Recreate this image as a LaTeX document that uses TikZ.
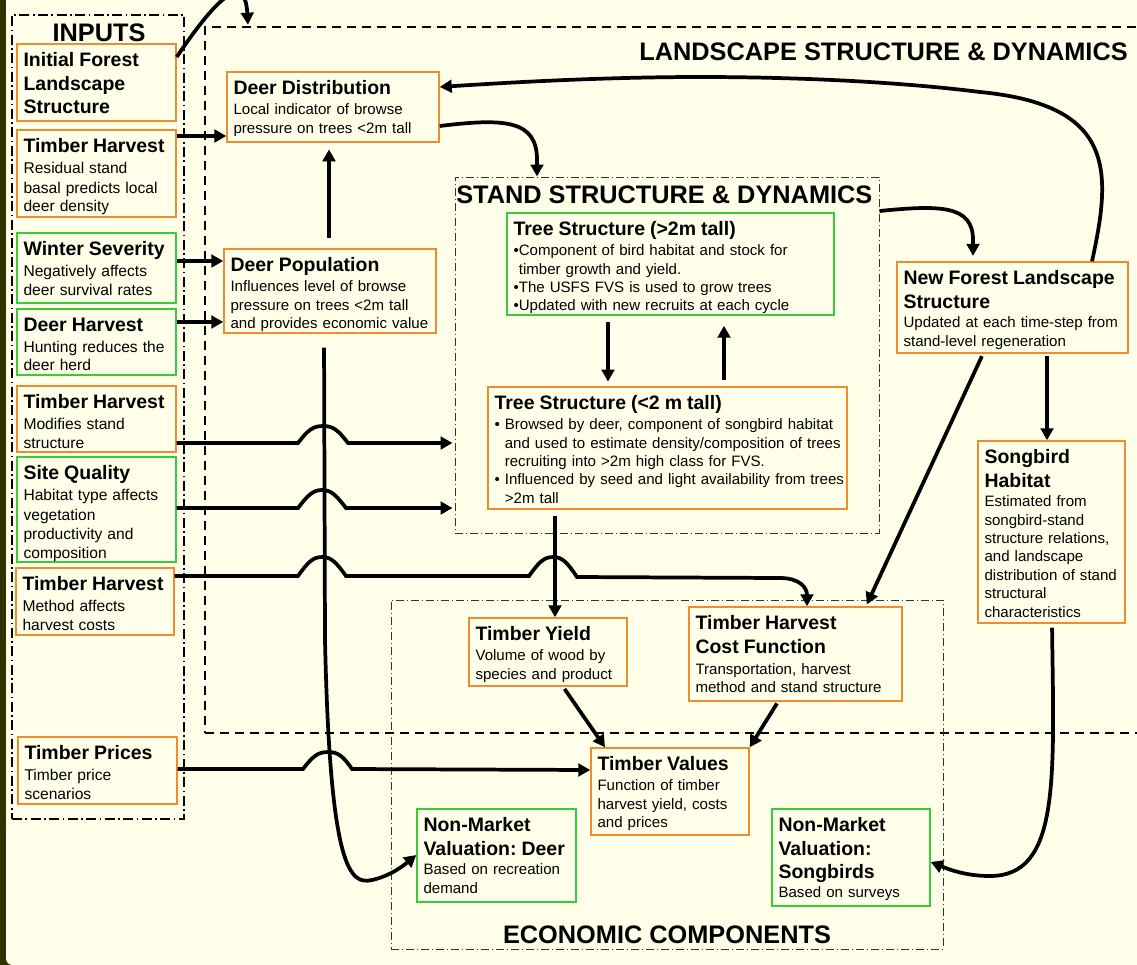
\documentclass[tikz,border=0pt]{standalone}
\usepackage{fontspec}
\setmainfont{Liberation Sans}
\usetikzlibrary{arrows.meta,fit}
\definecolor{bgc}{RGB}{255,255,234}
\definecolor{orc}{RGB}{240,140,45}
\definecolor{grc}{RGB}{55,205,55}
\definecolor{dkc}{RGB}{50,50,0}
\frenchspacing
\newcommand\tfont{\fontsize{14.6}{17.3}\selectfont\bfseries}
\newcommand\bfont{\fontsize{11.3}{13.8}\selectfont\mdseries}
\newcommand\bifont{\fontsize{11.7}{14.6}\selectfont\mdseries}
\newcommand\hfont{\fontsize{19}{22}\selectfont\bfseries}
\tikzset{
 boxst/.style={fill=bgc, line width=1.1pt, inner sep=0pt},
 txt/.style={anchor=north west, inner sep=0pt, align=left, text width=300pt, font=\bfont\frenchspacing},
 arr/.style={line width=2.8pt, -{Triangle[length=9pt,width=9.5pt]}},
 hdr/.style={inner sep=0pt, font=\hfont},
 frameA/.style={draw, line width=1.5pt, dash pattern=on 7.5pt off 2.6pt on 1.2pt off 2.6pt, inner sep=0pt},
 frameB/.style={draw, line width=1.5pt, dash pattern=on 6.75pt off 4.5pt, inner sep=0pt},
 frameC/.style={draw=black!80, line width=0.75pt, dash pattern=on 6pt off 2.25pt on 0.75pt off 2.25pt, inner sep=0pt},
}
\newcommand\mybox[7]{%
 \node[boxst, draw=#2, fit={(#3,#4) (#5,#6)}] (#1) {};
 \node[txt] (#1t) at ([xshift=5.25pt,yshift=-7pt]#1.north west) {#7};}
\begin{document}
\begin{tikzpicture}[x=0.75pt,y=-0.75pt]
\useasboundingbox (0,0) rectangle (1137,964);
\clip (0,0) rectangle (1137,964);
% background
\fill[dkc] (-5,-5) rectangle (1142,970);
\fill[bgc, rounded corners=5pt] (6,-40) rectangle (1180,965);
% frames
\node[frameA, fit={(12,15) (184,819)}] (inF) {};
\node[frameB, fit={(205,27) (1180,733)}] (landF) {};
\node[frameC, fit={(455,177) (879,533)}] (standF) {};
\node[frameC, fit={(391,600) (943,949)}] (econF) {};
% headers
\node[hdr] (inT) at (99,33) {INPUTS};
\node[hdr, anchor=east] (landT) at (1128,52) {LANDSCAPE STRUCTURE \& DYNAMICS};
\node[hdr, anchor=west] (standT) at (456,195) {STAND STRUCTURE \& DYNAMICS};
\node[hdr] (econT) at (667,935) {ECONOMIC COMPONENTS};
% input boxes
\mybox{ifl}{orc}{17}{44}{176}{121}{\tfont Initial Forest\\Landscape\\Structure\par}
\mybox{th1}{orc}{17}{130}{176}{217}{\tfont Timber Harvest\\[1pt]\bifont Residual stand\\basal predicts local\\deer density}
\mybox{ws}{grc}{17}{233}{176}{303}{\tfont Winter Severity\\[1pt]\bifont Negatively affects\\deer survival rates}
\mybox{dh}{grc}{17}{309}{176}{375}{\tfont Deer Harvest\\[1pt]\bifont Hunting reduces the\\deer herd}
\mybox{th2}{orc}{17}{386}{176}{452}{\tfont Timber Harvest\\[1pt]\bifont Modifies stand\\structure}
\mybox{sq}{grc}{17}{457}{176}{562}{\tfont Site Quality\\[1pt]\bifont Habitat type affects\\vegetation\\productivity and\\composition}
\mybox{th3}{orc}{16}{568}{174}{635}{\tfont Timber Harvest\\[1pt]\bifont Method affects\\harvest costs}
\mybox{tp}{orc}{18}{737}{177}{804}{\tfont Timber Prices\\[1pt]\bifont Timber price\\scenarios}
% landscape boxes
\mybox{dd}{orc}{227}{72}{439}{142}{\tfont Deer Distribution\\[1pt]\bfont Local indicator of browse\\pressure on trees <2m tall}
\mybox{dp}{orc}{224}{249}{436}{333}{\tfont Deer Population\\[1pt]\bfont Influences level of browse\\pressure on trees <2m tall\\and provides economic value}
\mybox{tsa}{grc}{507}{213}{834}{315}{\tfont Tree Structure (>2m tall)\\[1pt]\bfont\textbullet Component of bird habitat and stock for\\\phantom{\textbullet}timber growth and yield.\\\textbullet The USFS FVS is used to grow trees\\\textbullet Updated with new recruits at each cycle}
\mybox{tsb}{orc}{488}{387}{847}{509}{\tfont Tree Structure (<2 m tall)\\[1pt]\bfont\textbullet\ Browsed by deer, component of songbird habitat\\\phantom{\textbullet\ }and used to estimate density/composition of trees\\\phantom{\textbullet\ }recruiting into >2m high class for FVS.\\\textbullet\ Influenced by seed and light availability from trees\\\phantom{\textbullet\ }>2m tall}
\mybox{nfl}{orc}{897}{262}{1128}{353}{\tfont New Forest Landscape\\Structure\\[1pt]\bfont Updated at each time-step from\\stand-level regeneration}
\mybox{sh}{orc}{978}{441}{1125}{623}{\tfont Songbird\\Habitat\\[1pt]\bfont Estimated from\\songbird-stand\\structure relations,\\and landscape\\distribution of stand\\structural\\characteristics}
% economic boxes
\mybox{ty}{orc}{469}{618}{627}{686}{\tfont Timber Yield\\[1pt]\bfont Volume of wood by\\species and product}
\mybox{thcf}{orc}{689}{607}{902}{701}{\tfont Timber Harvest\\Cost Function\\[2pt]\bfont Transportation, harvest\\method and stand structure}
\mybox{tv}{orc}{591}{748}{749}{835}{\tfont Timber Values\\[1pt]\bfont Function of timber\\harvest yield, costs\\and prices}
\mybox{nmd}{grc}{417}{809}{576}{902}{\tfont Non-Market\\Valuation: Deer\\[1pt]\bfont Based on recreation\\demand}
\mybox{nms}{grc}{772}{809}{930}{906}{\tfont Non-Market\\Valuation:\\Songbirds\\[1pt]\bfont Based on surveys}
% connectors
\draw[arr, shorten >=1pt] (ifl.east |- 0,57) .. controls (215,0) and (245,-30) .. (248,0 |- landF.north);
\draw[arr] (th1.east |- 0,136) -- (dd.west |- 0,136);
\draw[arr] (ws.east |- 0,261) -- (dp.west |- 0,261);
\draw[arr] (dh.east |- 0,322) -- (dp.west |- 0,322);
\draw[arr, shorten <=8pt, shorten >=5pt] (329,0 |- dp.north) -- (329,0 |- dd.south);
\draw[arr] (dd.east |- 0,126) .. controls (505,118) and (537,120) .. (537,160) -- (537,0 |- standF.north);
\draw[arr] (1092,0 |- nfl.north) .. controls (1112,170) and (1115,105) .. (980,92) .. controls (900,82) and (800,77) .. (700,77) .. controls (600,77) and (500,83) .. (dd.east |- 0,87);
\draw[arr, shorten >=4pt] (standF.east |- 0,211) .. controls (940,205) and (973,205) .. (973,240) -- (973,0 |- nfl.north);
\draw[arr, shorten <=5pt, shorten >=3.5pt] (608,0 |- tsa.south) -- (608,0 |- tsb.north);
\draw[arr, shorten <=4.5pt, shorten >=7.5pt] (724,0 |- tsb.north) -- (724,0 |- tsa.south);
\draw[arr, shorten >=1.5pt] (th2.east |- 0,443) -- (298,443) .. controls (308,430) and (313,426) .. (323,426) .. controls (333,426) and (338,430) .. (348,443) -- (standF.west |- 0,443);
\draw[arr, shorten >=1.5pt] (sq.east |- 0,508) -- (298,508) .. controls (308,495) and (313,490) .. (322,490) .. controls (331,490) and (336,495) .. (346,508) -- (standF.west |- 0,508);
\draw[arr] (th3.east |- 0,576) -- (298,576) .. controls (308,562) and (313,557) .. (322,557) .. controls (331,557) and (336,562) .. (346,576) -- (529,576) .. controls (539,562) and (544,557) .. (553,557) .. controls (562,557) and (567,562) .. (577,577) -- (780,578) .. controls (800,578) and (807,588) .. (807,0 |- thcf.north);
\draw[arr] (tp.east |- 0,769) -- (303,769) .. controls (313,756) and (318,752) .. (328,752) .. controls (338,752) and (343,756) .. (352,769) -- (tv.west |- 0,770);
\draw[arr, shorten <=10.5pt] (324,0 |- dp.south) -- (325,640) .. controls (330,870) and (350,885) .. (372,880) .. controls (390,876) and (403,866) .. (nmd.west |- 0,855);
\draw[arr, shorten <=4.5pt] (555,0 |- tsb.south) -- (555,0 |- ty.north);
\draw[arr, shorten <=2pt] (563,0 |- ty.south) -- (605,0 |- tv.north);
\draw[arr, shorten <=1.5pt] (778,0 |- thcf.south) -- (tv.north east);
\draw[arr, shorten <=2pt, shorten >=1.5pt] (983,0 |- nfl.south) -- (866,0 |- thcf.north);
\draw[arr, shorten <=2pt] (1047,0 |- nfl.south) -- (1047,0 |- sh.north);
\draw[arr, shorten <=3pt] (1052,0 |- sh.south) .. controls (1054,780) and (1060,876) .. (990,876) .. controls (965,876) and (948,869) .. (nms.east |- 0,862);
\end{tikzpicture}
\end{document}
